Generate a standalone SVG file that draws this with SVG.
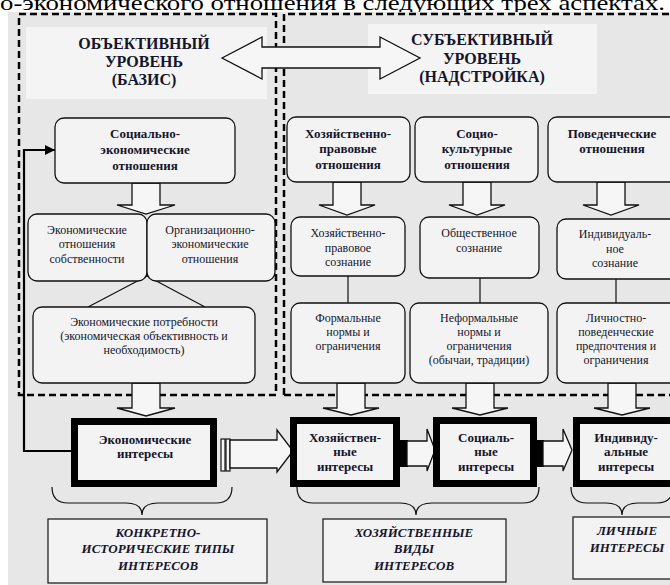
<svg xmlns="http://www.w3.org/2000/svg" width="670" height="585" viewBox="0 0 670 585">
<style>
.bg{fill:#e7e7e7}
.panel{fill:#f4f4f4}
.dash{fill:none;stroke:#000;stroke-width:2.5;stroke-dasharray:7 4}
.node{fill:#f3f3f3;stroke:#111;stroke-width:1.3}
.blk{fill:#f6f6f6;stroke:#111;stroke-width:1.3;stroke-linejoin:miter}
.int{fill:#f3f3f3;stroke:#000;stroke-width:7}
.lbl{fill:#f3f3f3;stroke:#222;stroke-width:1.3}
.line{fill:none;stroke:#111;stroke-width:1.2}
.fb{fill:none;stroke:#000;stroke-width:2.2}
text{font-family:"Liberation Serif","Times New Roman",serif;fill:#15152b;text-anchor:middle}
.t{font-size:16px;font-weight:bold}
.b{font-size:13px;font-weight:bold}
.r{font-size:12px}
.i{font-size:13px;font-weight:bold;font-style:italic}
</style>
<defs>
<marker id="ah" markerWidth="10" markerHeight="10" refX="10" refY="5" orient="auto" markerUnits="userSpaceOnUse"><path d="M0,0 L10,5 L0,10 z" fill="#000"/></marker>
</defs>

<text x="0" y="10" style="text-anchor:start;font-size:22px;fill:#000" textLength="665" lengthAdjust="spacingAndGlyphs">о-экономического отношения в следующих трех аспектах.</text>

<rect class="bg" x="8" y="12" width="662" height="573"/>

<g id="level-boxes">
<rect class="dash" x="19" y="14" width="257" height="381"/>
<path class="dash" d="M284,395 L284,14 L674,14 M284,395 L674,395"/>
</g>

<g id="objective-title">
<rect class="panel" x="26" y="27" width="241" height="72"/>
<text class="t" x="144" y="49">ОБЪЕКТИВНЫЙ</text>
<text class="t" x="144" y="67">УРОВЕНЬ</text>
<text class="t" x="144" y="85">(БАЗИС)</text>
</g>

<g id="subjective-title">
<rect class="panel" x="368" y="24" width="229" height="70"/>
<text class="t" x="482" y="45">СУБЪЕКТИВНЫЙ</text>
<text class="t" x="482" y="64">УРОВЕНЬ</text>
<text class="t" x="482" y="82">(НАДСТРОЙКА)</text>
</g>

<g id="connectors">
<polygon class="blk" points="222,58 262,37 262,47 380,47 380,37 420,58 380,79 380,68 262,68 262,79"/>
<polygon class="blk" points="132,183 160,183 160,205 175,205 146,214 117,205 132,205"/>
<polygon class="blk" points="132,383 160,383 160,408 175,408 146,416 117,408 132,408"/>
<polygon class="blk" points="333,182 361,182 361,205 375,205 347,215 319,205 333,205"/>
<polygon class="blk" points="463,182 491,182 491,205 505,205 477,215 449,205 463,205"/>
<polygon class="blk" points="597,182 625,182 625,205 639,205 611,215 583,205 597,205"/>
<polygon class="blk" points="337,383 365,383 365,408 379,408 351,415 323,408 337,408"/>
<polygon class="blk" points="466,383 494,383 494,408 508,408 480,415 452,408 466,408"/>
<polygon class="blk" points="608,383 636,383 636,408 650,408 622,415 594,408 608,408"/>
<path class="line" d="M147,276 L88,307 M147,276 L205,307"/>
<path class="line" d="M348,276 V303 M480,278 V303 M616,279 V303"/>
<path class="fb" d="M71,451 H24 V150 H55" marker-end="url(#ah)"/>
<rect x="221" y="439" width="4" height="32" fill="#f6f6f6" stroke="#111" stroke-width="1.2"/>
<rect x="226" y="439" width="4" height="32" fill="#f6f6f6" stroke="#111" stroke-width="1.2"/>
<polygon class="blk" points="230,440 277,440 277,430 293,451 277,472 277,468 230,468"/>
<rect x="398" y="440" width="10" height="27" fill="#000"/>
<polygon class="blk" points="407,441 427,441 427,429 435,450 427,471 427,466 407,466"/>
<rect x="535" y="440" width="9" height="27" fill="#000"/>
<polygon class="blk" points="543,441 563,441 563,429 572,450 563,471 563,466 543,466"/>
<path class="line" d="M52,487 Q52,503 68,503 L126,503 Q142,503 142,515 Q142,503 158,503 L216,503 Q232,503 232,487"/>
<path class="line" d="M297,487 Q297,503 313,503 L400,503 Q416,503 416,515 Q416,503 432,503 L523,503 Q539,503 539,487"/>
<path class="line" d="M571,487 Q571,503 587,503 L606,503 Q622,503 622,515 Q622,503 638,503 L657,503 Q673,503 673,487"/>
</g>

<g id="socio-economic">
<rect class="node" x="55" y="118" width="180" height="65" rx="9"/>
<text class="b" x="145" y="138">Социально-</text>
<text class="b" x="145" y="154">экономические</text>
<text class="b" x="145" y="170">отношения</text>
</g>

<g id="property-relations">
<rect class="node" x="28" y="214" width="119" height="67" rx="9"/>
<text class="r" x="87" y="234">Экономические</text>
<text class="r" x="87" y="248">отношения</text>
<text class="r" x="87" y="263">собственности</text>
</g>

<g id="org-econ-relations">
<rect class="node" x="147" y="214" width="128" height="67" rx="9"/>
<text class="r" x="210" y="234">Организационно-</text>
<text class="r" x="210" y="248">экономические</text>
<text class="r" x="210" y="263">отношения</text>
</g>

<g id="econ-needs">
<rect class="node" x="33" y="307" width="222" height="76" rx="9"/>
<text class="r" x="144" y="326">Экономические потребности</text>
<text class="r" x="144" y="340">(экономическая объективность и</text>
<text class="r" x="144" y="354">необходимость)</text>
</g>

<g id="econ-legal-relations">
<rect class="node" x="287" y="117" width="123" height="65" rx="9"/>
<text class="b" x="348" y="138">Хозяйственно-</text>
<text class="b" x="348" y="153">правовые</text>
<text class="b" x="348" y="169">отношения</text>
</g>

<g id="sociocultural-relations">
<rect class="node" x="415" y="117" width="123" height="65" rx="9"/>
<text class="b" x="477" y="138">Социо-</text>
<text class="b" x="477" y="153">культурные</text>
<text class="b" x="477" y="169">отношения</text>
</g>

<g id="behavioral-relations">
<rect class="node" x="548" y="117" width="140" height="65" rx="9"/>
<text class="b" x="612" y="138">Поведенческие</text>
<text class="b" x="612" y="153">отношения</text>
</g>

<g id="legal-consciousness">
<rect class="node" x="291" y="217" width="114" height="59" rx="9"/>
<text class="r" x="348" y="237">Хозяйственно-</text>
<text class="r" x="348" y="252">правовое</text>
<text class="r" x="348" y="266">сознание</text>
</g>

<g id="public-consciousness">
<rect class="node" x="420" y="217" width="119" height="61" rx="9"/>
<text class="r" x="479" y="237">Общественное</text>
<text class="r" x="479" y="252">сознание</text>
</g>

<g id="individual-consciousness">
<rect class="node" x="557" y="219" width="130" height="60" rx="9"/>
<text class="r" x="615" y="238">Индивидуаль-</text>
<text class="r" x="615" y="253">ное</text>
<text class="r" x="615" y="267">сознание</text>
</g>

<g id="formal-norms">
<rect class="node" x="291" y="303" width="114" height="80" rx="9"/>
<text class="r" x="348" y="322">Формальные</text>
<text class="r" x="348" y="336">нормы и</text>
<text class="r" x="348" y="350">ограничения</text>
</g>

<g id="informal-norms">
<rect class="node" x="410" y="303" width="138" height="80" rx="9"/>
<text class="r" x="479" y="322">Неформальные</text>
<text class="r" x="479" y="336">нормы и</text>
<text class="r" x="479" y="350">ограничения</text>
<text class="r" x="479" y="364">(обычаи, традиции)</text>
</g>

<g id="personal-preferences">
<rect class="node" x="557" y="303" width="130" height="80" rx="9"/>
<text class="r" x="616" y="322">Личностно-</text>
<text class="r" x="616" y="336">поведенческие</text>
<text class="r" x="616" y="350">предпочтения и</text>
<text class="r" x="616" y="364">ограничения</text>
</g>

<g id="econ-interests">
<rect class="int" x="74.5" y="421.5" width="139" height="62"/>
<text class="b" x="145" y="444">Экономические</text>
<text class="b" x="145" y="458">интересы</text>
</g>

<g id="economic-interests">
<rect class="int" x="293.5" y="420.5" width="103" height="63"/>
<text class="b" x="345" y="442">Хозяйствен-</text>
<text class="b" x="345" y="456">ные</text>
<text class="b" x="345" y="471">интересы</text>
</g>

<g id="social-interests">
<rect class="int" x="436.5" y="420.5" width="97" height="63"/>
<text class="b" x="486" y="442">Социаль-</text>
<text class="b" x="486" y="456">ные</text>
<text class="b" x="486" y="471">интересы</text>
</g>

<g id="individual-interests">
<rect class="int" x="576.5" y="420.5" width="110" height="63"/>
<text class="b" x="626" y="442">Индивиду-</text>
<text class="b" x="626" y="456">альные</text>
<text class="b" x="626" y="471">интересы</text>
</g>

<g id="historical-types">
<rect class="lbl" x="48" y="519" width="219" height="64"/>
<text class="i" x="158" y="537">КОНКРЕТНО-</text>
<text class="i" x="158" y="553">ИСТОРИЧЕСКИЕ ТИПЫ</text>
<text class="i" x="158" y="570">ИНТЕРЕСОВ</text>
</g>

<g id="economic-types">
<rect class="lbl" x="323" y="519" width="183" height="63"/>
<text class="i" x="414" y="537">ХОЗЯЙСТВЕННЫЕ</text>
<text class="i" x="414" y="553">ВИДЫ</text>
<text class="i" x="414" y="570">ИНТЕРЕСОВ</text>
</g>

<g id="personal-interests">
<rect class="lbl" x="573" y="517" width="110" height="62"/>
<text class="i" x="627" y="535">ЛИЧНЫЕ</text>
<text class="i" x="627" y="552">ИНТЕРЕСЫ</text>
</g>
</svg>
